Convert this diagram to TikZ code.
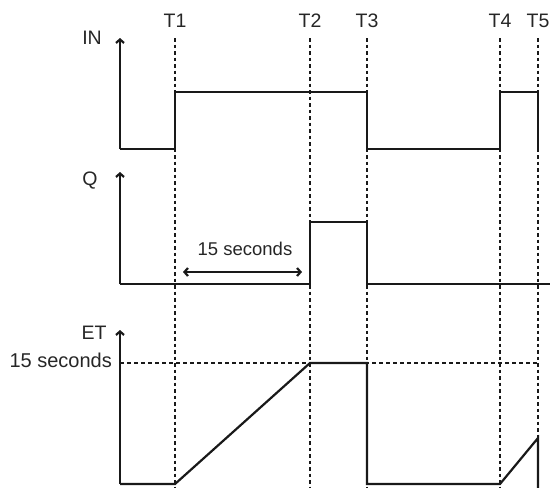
\documentclass[tikz,border=0pt]{standalone}
\usepackage{fontspec}
\setmainfont{Liberation Sans}
\usetikzlibrary{arrows.meta}
\begin{document}
\begin{tikzpicture}[x=1pt,y=-1pt,
  sig/.style={line width=2.2pt,line join=miter,black!90},
  axisarr/.style={line width=2.2pt,black!90,-{Straight Barb[length=3.5pt,width=8pt]}},
  tline/.style={line width=2pt,black!90,dash pattern=on 3.5pt off 3pt},
  lvl/.style={line width=1.3pt,black!90,dash pattern=on 4pt off 3pt},
  lbl/.style={font=\fontsize{19.5}{22}\selectfont,text=black!85,inner sep=0pt},
  span/.style={line width=2.2pt,black!90,{Straight Barb[length=3.5pt,width=8pt]}-{Straight Barb[length=3.5pt,width=8pt]}}]
\useasboundingbox (0,0) rectangle (550,488);
% time markers
\node[lbl] (t1) at (175,21) {T1};
\node[lbl] (t2) at (310,21) {T2};
\node[lbl] (t3) at (367,21) {T3};
\node[lbl] (t4) at (500,21) {T4};
\node[lbl] (t5) at (538,21) {T5};
\foreach \n/\x in {1/175,2/310,3/367,4/500,5/538}{
  \coordinate (a\n) at (\x,38);
  \coordinate (b\n) at (\x,488);
  \draw[tline] (a\n) -- (b\n);
}
% signal labels
\node[lbl] (in) at (92,38) {IN};
\node[lbl] (q) at (90,181) {Q};
\node[lbl] (et) at (94,333) {ET};
\node[lbl,font=\fontsize{20}{22}\selectfont,anchor=east] (fs) at (112,360) {15 seconds};
% IN
\coordinate (inb) at (120,149);
\coordinate (intop) at (120,38);
\draw[axisarr] (inb) -- (intop);
\draw[sig] (inb) -- (175,149) -- (175,92) -- (367,92) -- (367,149) -- (500,149) -- (500,92) -- (538,92) -- (538,149);
% Q
\coordinate (qb) at (120,284);
\coordinate (qtop) at (120,172);
\draw[axisarr] (qb) -- (qtop);
\draw[sig] (qb) -- (310,284) -- (310,222) -- (367,222) -- (367,284) -- (550,284);
\coordinate (sl) at (183,272);
\coordinate (sr) at (302,272);
\draw[span] (sl) -- (sr);
\node[lbl,font=\fontsize{18.5}{21}\selectfont] (sp) at (245,249) {15 seconds};
% ET
\coordinate (eb) at (120,484);
\coordinate (etop) at (120,330);
\coordinate (lvl0) at (120,363);
\coordinate (lvl1) at (538,363);
\draw[lvl] (lvl0) -- (lvl1);
\draw[axisarr] (eb) -- (etop);
\draw[sig] (eb) -- (175,484) -- (310,363) -- (367,363) -- (367,484) -- (500,484) -- (538,438) -- (538,488);
\end{tikzpicture}
\end{document}
